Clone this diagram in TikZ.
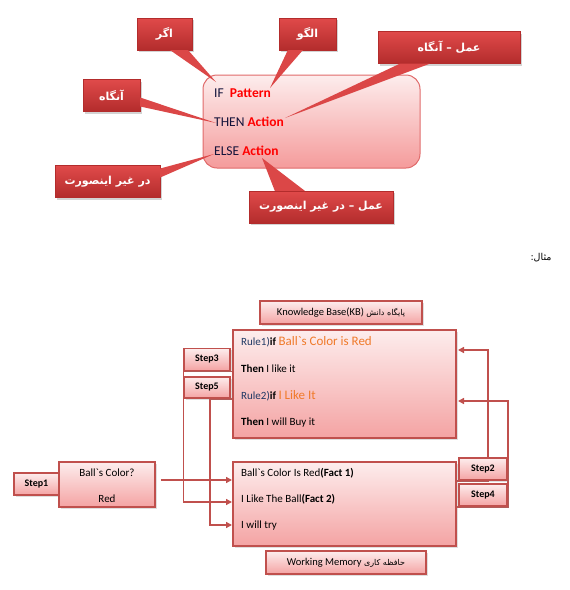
\documentclass[tikz,border=0pt]{standalone}
\usepackage{fontspec}
\setmainfont{Carlito}
\newfontfamily\farsi[Script=Arabic]{DejaVu Sans}
\TeXXeTstate=1
\usetikzlibrary{shadows,arrows.meta,calc,backgrounds}
\definecolor{calred}{HTML}{E04A4A}
\definecolor{caldark}{HTML}{B32C2C}
\definecolor{boxline}{HTML}{C0504D}
\definecolor{boxtop}{HTML}{FDEDED}
\definecolor{boxbot}{HTML}{F4A3A3}
\definecolor{ruleline}{HTML}{E06A6A}
\definecolor{navy}{HTML}{1F3864}
\definecolor{orng}{HTML}{F07A2A}
\definecolor{kwd}{HTML}{12123A}

\begin{document}
\begin{tikzpicture}[x=1pt,y=-1pt]
\tikzset{callout/.style = {rectangle, top color=calred, bottom color=caldark, draw=caldark, minimum height=32pt, inner sep=0pt, text=white, font=\farsi\bfseries\fontsize{11}{13}\selectfont, drop shadow={opacity=0.35, shadow xshift=2pt, shadow yshift=-2pt}}}
\tikzset{tail/.style = {fill=calred!90!caldark}}
\tikzset{rulebox/.style = {rectangle, rounded corners=14pt, draw=ruleline, line width=1pt, top color=boxtop, bottom color=boxbot!95!red, minimum width=217pt, minimum height=93pt}}
\tikzset{kwline/.style = {anchor=west, inner sep=0pt, text=kwd, font=\fontsize{13.5}{15}\selectfont}}
\tikzset{membox/.style = {rectangle, draw=boxline, line width=1.6pt, top color=boxtop, bottom color=boxbot, inner sep=0pt, drop shadow={opacity=0.25, shadow xshift=1.5pt, shadow yshift=-1.5pt}}}
\tikzset{stepbox/.style = {membox, minimum width=46pt, minimum height=22pt, font=\bfseries\fontsize{10}{12}\selectfont}}
\tikzset{line/.style = {anchor=west, inner sep=0pt, font=\fontsize{11}{13}\selectfont}}
\tikzset{link/.style = {draw=boxline, line width=1.4pt}}
\tikzset{arr/.style = {link, -{Triangle[length=6pt,width=6pt]}}}

\useasboundingbox (0,0) rectangle (570,590);

    \node[rulebox] (rule) at (311.5,121.5) {};

    \node[callout, minimum width=55pt] (agar) at (164.5,34) {\beginR اگر\endR};
    \node[callout, minimum width=57pt] (olgu) at (307.5,34) {\beginR الگو\endR};
    \node[callout, minimum width=142pt] (amal) at (449,47.5) {\beginR عمل – آنگاه\endR};
    \node[callout, minimum width=57pt] (angah) at (111.5,95.5) {\beginR آنگاه\endR};
    \node[callout, minimum width=105pt] (dargh) at (107.5,181.5) {\beginR در غیر اینصورت\endR};
    \node[callout, minimum width=144pt] (amald) at (321,207) {\beginR عمل – در غیر اینصورت\endR};

\coordinate (tagar) at (216,82);
\coordinate (tolgu) at (270,88);
\coordinate (tamal) at (285,118);
\coordinate (tangah) at (216,123);
\coordinate (tdargh) at (214,154);
\coordinate (tamald) at (262,158);

\fill[tail] ($(agar.south east)+(-22,0)$) -- ($(agar.south east)+(-4,0)$) -- (tagar) -- cycle;
\fill[tail] ($(olgu.south west)+(9,0)$) -- ($(olgu.south west)+(24,0)$) -- (tolgu) -- cycle;
\fill[tail] ($(amal.south west)+(22,0)$) -- ($(amal.south west)+(52,0)$) -- (tamal) -- cycle;
\fill[tail] ($(angah.east)+(0,2)$) -- ($(angah.east)+(0,11)$) -- (tangah) -- cycle;
\fill[tail] ($(dargh.east)+(0,-13)$) -- ($(dargh.east)+(0,-4)$) -- (tdargh) -- cycle;
\fill[tail] ($(amald.north west)+(26,0)$) -- ($(amald.north west)+(56,0)$) -- (tamald) -- cycle;

    \node[kwline] (ifl) at (214,93) {IF\ \ \textcolor{red}{\bfseries Pattern}};
    \node[kwline] (thenl) at (214,122) {THEN \textcolor{red}{\bfseries Action}};
    \node[kwline] (elsel) at (214,151) {ELSE \textcolor{red}{\bfseries Action}};

    \node[font=\farsi\fontsize{9.5}{11}\selectfont] (mesal) at (541,258) {\beginR مثال:\endR};

    \node[membox, minimum width=162pt, minimum height=23pt, font=\fontsize{10.5}{12}\selectfont] (kbl) at (341,312.5) {Knowledge Base(KB) {\farsi\fontsize{8}{10}\selectfont\beginR پایگاه دانش\endR}};
    \node[membox, minimum width=223pt, minimum height=108pt] (kb) at (344.5,384) {};
    \node[membox, minimum width=223pt, minimum height=84pt] (wm) at (344.5,504) {};
    \node[membox, minimum width=160pt, minimum height=23pt, font=\fontsize{10.5}{12}\selectfont] (wml) at (346,562.5) {Working Memory {\farsi\fontsize{8}{10}\selectfont\beginR حافظه کاری\endR}};
    \node[membox, minimum width=45pt, minimum height=22pt, font=\bfseries\fontsize{10}{12}\selectfont] (s1) at (36.5,484) {Step1};
    \node[membox, minimum width=96pt, minimum height=45pt] (ask) at (107,484.5) {};
    \node[stepbox] (s3) at (207,359.5) {Step3};
    \node[stepbox, minimum height=21pt] (s5) at (207,387.5) {Step5};
    \node[stepbox, minimum width=48pt] (s2) at (483,469) {Step2};
    \node[stepbox, minimum width=48pt] (s4) at (483,495) {Step4};

    \node[line] (k1) at (241,342) {\textcolor{navy}{Rule1)}\textbf{if} \textcolor{orng}{\fontsize{13}{15}\selectfont Ball\textasciigrave s Color is Red}};
    \node[line] (k2) at (241,369) {\textbf{Then} I like it};
    \node[line] (k3) at (241,396) {\textcolor{navy}{Rule2)}\textbf{if} \textcolor{orng}{\fontsize{13}{15}\selectfont I Like It}};
    \node[line] (k4) at (241,423) {\textbf{Then} I will Buy it};

    \node[line] (m1) at (241,473) {Ball\textasciigrave s Color Is Red\textbf{(Fact 1)}};
    \node[line] (m2) at (241,499) {I Like The Ball\textbf{(Fact 2)}};
    \node[line] (m3) at (241,526) {I will try};

    \node[font=\fontsize{11}{13}\selectfont] (q1) at (107,473) {Ball\textasciigrave s Color?};
    \node[font=\fontsize{11}{13}\selectfont] (q2) at (107,499) {Red};

\coordinate (f1) at (232,480);
\coordinate (f2) at (232,502);
\coordinate (f3) at (232,525);
\coordinate (r1) at (458,350);
\coordinate (r2) at (458,401);
\coordinate (v5) at ($(s5.south)+(3,0)$);
\coordinate (v2) at ($(s2.north)+(5,0)$);

\begin{scope}[on background layer]
\draw[arr] ($(ask.east)+(5,-4.5)$) -- (f1);
\draw[arr] (kb.west |- s3.south) -- (s3.south west) -- (s3.south west |- f2) -- (f2);
\draw[arr] (kb.west |- s5.south) -- (v5) -- (v5 |- f3) -- (f3);
\draw[arr] (wm.east |- s2.south) -- (v2 |- s2.south) -- (v2 |- r1) -- (r1);
\draw[arr] (wm.east |- s4.south) -- (s4.south east) -- (s4.south east |- r2) -- (r2);
\end{scope}
\end{tikzpicture}
\end{document}
